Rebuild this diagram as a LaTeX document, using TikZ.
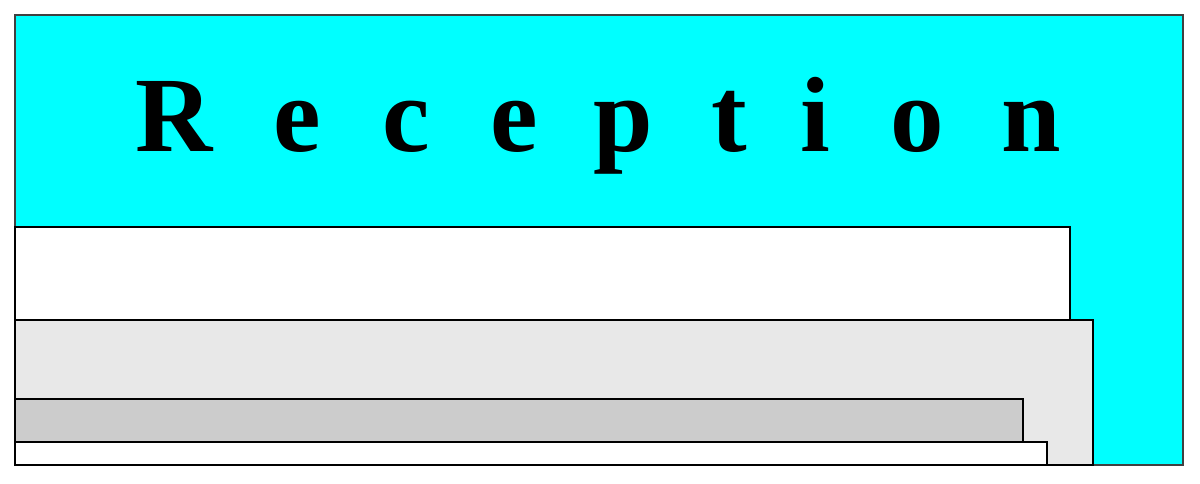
\documentclass[tikz,border=0pt]{standalone}
\usepackage{fontspec}
\setmainfont{Liberation Serif}
\definecolor{cyanfill}{HTML}{00FFFF}
\definecolor{lightbox}{HTML}{E8E8E8}
\definecolor{midbox}{HTML}{CCCCCC}
\begin{document}
\begin{tikzpicture}[x=1pt,y=-1pt,
  panel/.style={draw=black,line width=1.5pt},
  letter/.style={anchor=base,inner sep=0pt,font=\fontsize{107}{107}\selectfont\bfseries}]
\useasboundingbox (0,0) rectangle (1200,483);
\fill[white] (0,0) rectangle (1200,483);
\draw[panel,fill=cyanfill,draw=black!75] (15,15) rectangle (1183,465);
\draw[panel,fill=white] (15,227) rectangle (1070,320);
\draw[panel,fill=lightbox] (15,320) rectangle (1093,465);
\draw[panel,fill=midbox] (15,399) rectangle (1023,442);
\draw[panel,fill=white] (15,442) rectangle (1047,465);
\node[letter] (l1) at (174.5,151) {R};
\node[letter] (l2) at (297.5,151) {e};
\node[letter] (l3) at (406,151) {c};
\node[letter] (l4) at (514.5,151) {e};
\node[letter] (l5) at (623.5,151) {p};
\node[letter] (l6) at (729,151) {t};
\node[letter] (l7) at (815,151) {i};
\node[letter] (l8) at (917,151) {o};
\node[letter] (l9) at (1031.5,151) {n};
\end{tikzpicture}
\end{document}
